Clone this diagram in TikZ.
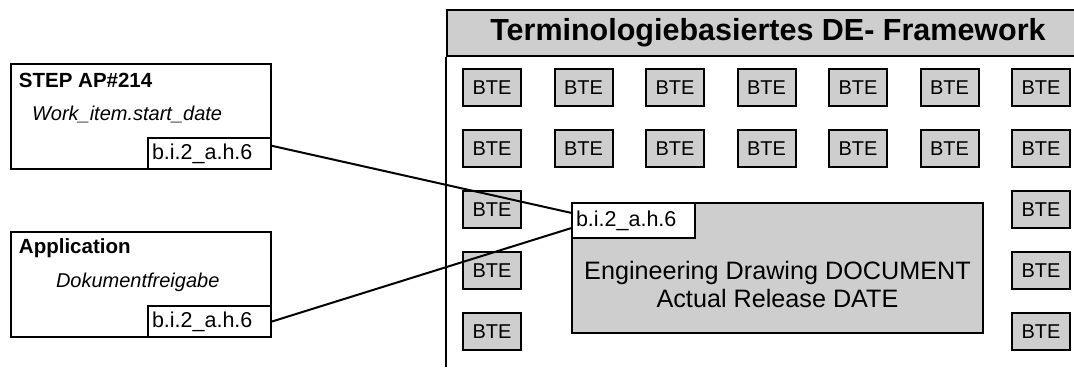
\documentclass[tikz,border=0pt]{standalone}
\usepackage{fontspec}
\setmainfont{Liberation Sans}
\definecolor{boxgray}{RGB}{206,206,206}

\begin{document}
\begin{tikzpicture}[x=1pt,y=-1pt,line width=2pt,
        bte/.style={draw,fill=boxgray,minimum width=58pt,minimum height=37pt,inner sep=0pt,font=\fontsize{20}{22}\selectfont},
        idbox/.style={draw,fill=white,text width=115pt,inner xsep=4pt,inner ysep=0pt,align=left,font=\fontsize{21.5}{24}\selectfont},
        srcbox/.style={draw,fill=white,minimum width=260pt,minimum height=105pt,anchor=north west},
        srctitle/.style={anchor=base west,inner sep=0pt,font=\bfseries\fontsize{20.5}{24}\selectfont},
        srcattr/.style={anchor=base west,inner sep=0pt,font=\itshape\fontsize{20}{24}\selectfont}]
        \useasboundingbox (0,0) rectangle (1074,367);
        % framework
        \node[draw,fill=boxgray,minimum width=642pt,minimum height=46pt,inner sep=0pt,anchor=north west,font=\bfseries\fontsize{30.5}{34}\selectfont] (fwtitle) at (446,9) {Terminologiebasiertes DE- Framework};
        \coordinate (fwend) at (446,367);
        \draw (fwtitle.south west) -- (fwend);
        \foreach \c in {0,...,6}
          \foreach \r in {0,1}
            \node[bte] (bte-\r-\c) at ({492+91.5*\c},{87.5+61*\r}) {BTE};
        \foreach \c in {0,6}
          \foreach \r in {2,3,4}
            \node[bte] (bte-\r-\c) at ({492+91.5*\c},{87.5+61*\r}) {BTE};
        \node[draw,fill=boxgray,minimum width=411pt,minimum height=130pt] (doc) at (777.5,268) {};
        \node[idbox,minimum height=35pt,anchor=north west] (docid) at (doc.north west) {b.i.2\_a.h.6};
        \node[align=center,font=\fontsize{25.2}{28}\selectfont] (doctxt) at (777.5,284) {Engineering Drawing DOCUMENT\\Actual Release DATE};
        % sources
        \node[srcbox] (step) at (10,63) {};
        \node[idbox,minimum height=31pt,anchor=south east] (stepid) at (step.south east) {b.i.2\_a.h.6};
        \node[srctitle] (steptitle) at (18,87) {STEP AP\#214};
        \node[srcattr] (stepattr) at (31,120) {Work\_item.start\_date};
        \node[srcbox] (app) at (10,231) {};
        \node[idbox,minimum height=31pt,anchor=south east] (appid) at (app.south east) {b.i.2\_a.h.6};
        \node[srctitle] (apptitle) at (18,253) {Application};
        \node[srcattr] (appattr) at (55,287) {Dokumentfreigabe};
        % mappings
        \draw (stepid.7) -- (docid.173);
        \draw (appid.east) -- (docid.187);
      \end{tikzpicture}
\end{document}
